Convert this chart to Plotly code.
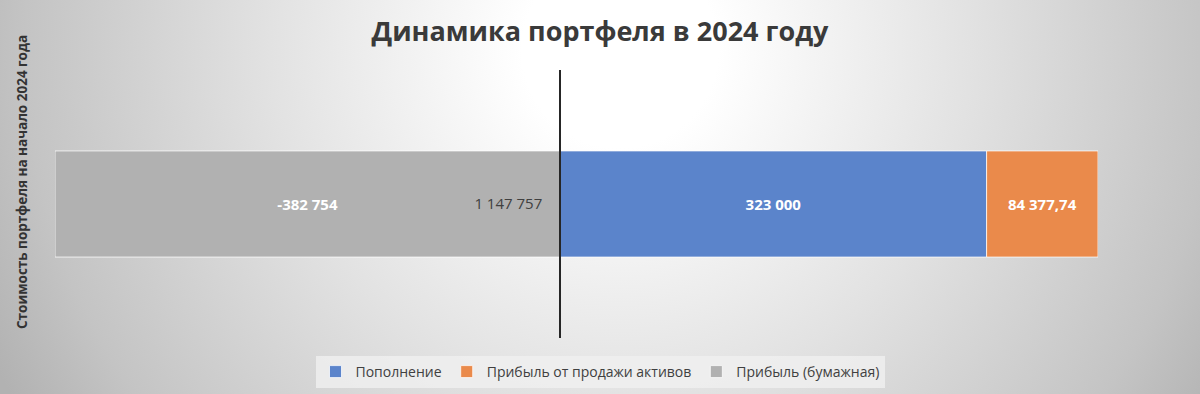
import base64
import plotly.graph_objects as go

# ---- data ----
category = ["1 147 757"]
series_names = ["Пополнение", "Прибыль от продажи активов", "Прибыль (бумажная)"]
popolnenie = [323000]
pribyl_prodazha = [84377.74]
pribyl_bumazhnaya = [-382754]
colors = ["#5B84CB", "#EA8A4B", "#B1B1B1"]
decimals = [0, 2, 0]


def fmt(v, d):
    s = f"{v:,.{d}f}"
    return s.replace(",", " ").replace(".", ",")


W, H = 1200, 394
ML, MR, MT, MB = 55, 102, 70, 56
PW = W - ML - MR
PH = H - MT - MB

xmin = pribyl_bumazhnaya[0]
xmax = popolnenie[0] + pribyl_prodazha[0]
zero_pos = (0 - xmin) / (xmax - xmin)

fig = go.Figure()
for name, vals, col, d in zip(series_names,
                              [popolnenie, pribyl_prodazha, pribyl_bumazhnaya],
                              colors, decimals):
    fig.add_trace(go.Bar(
        y=category, x=vals, name=name, orientation="h",
        marker=dict(color=col, line=dict(color="rgba(255,255,255,0.75)", width=1)),
        text=[fmt(v, d) for v in vals], textposition="inside",
        insidetextanchor="middle",
        textfont=dict(family="Open Sans", size=15, color="white", weight="bold"),
        hoverinfo="skip",
    ))

# radial gradient background as svg image
svg = f'''<svg xmlns="http://www.w3.org/2000/svg" width="{W}" height="{H}" viewBox="0 0 {W} {H}" preserveAspectRatio="none">
<defs><radialGradient id="g" gradientUnits="userSpaceOnUse" cx="620" cy="50" r="700">
<stop offset="0" stop-color="#ffffff"/>
<stop offset="0.14" stop-color="#ffffff"/>
<stop offset="0.5" stop-color="#e2e2e2"/>
<stop offset="0.85" stop-color="#c4c4c4"/>
<stop offset="1" stop-color="#b2b2b2"/>
</radialGradient></defs>
<rect x="0" y="0" width="{W}" height="{H}" fill="url(#g)"/>
</svg>'''
src = "data:image/svg+xml;base64," + base64.b64encode(svg.encode()).decode()

fig.add_layout_image(dict(
    source=src, xref="paper", yref="paper",
    x=-ML / PW, y=1 + MT / PH, sizex=W / PW, sizey=H / PH,
    xanchor="left", yanchor="top", sizing="stretch", layer="below",
))

fig.update_layout(
    width=W, height=H,
    margin=dict(l=ML, r=MR, t=MT, b=MB, pad=0),
    barmode="relative", bargap=0.604,
    paper_bgcolor="white", plot_bgcolor="rgba(0,0,0,0)",
    font=dict(family="Open Sans", color="#404040"),
    title=dict(text="<b>Динамика портфеля в 2024 году</b>", xref="container", x=0.5,
               xanchor="center", yref="container", y=1 - 32 / H, yanchor="middle",
               font=dict(size=27, color="#3a3a3a", family="Open Sans")),
    xaxis=dict(range=[xmin, xmax], showgrid=False, zeroline=False,
               showticklabels=False, showline=False, fixedrange=True),
    yaxis=dict(type="category", anchor="free", position=zero_pos,
               showline=True, linecolor="#262626", linewidth=2,
               showgrid=False, zeroline=False, ticks="",
               ticklabelstandoff=14, range=[-0.5, 0.5], fixedrange=True,
               tickfont=dict(size=15, color="#404040", family="Open Sans")),
    showlegend=True,
    legend=dict(orientation="h", xref="container", x=0.5, xanchor="center",
                yref="container", y=1 - 372 / H, yanchor="middle",
                bgcolor="rgba(240,240,240,0.8)", traceorder="normal",
                font=dict(size=14, color="#404040", family="Open Sans")),
    annotations=[dict(
        text="<b>Стоимость портфеля на начало 2024 года</b>", textangle=-90,
        xref="paper", yref="paper", x=(22 - ML) / PW, y=1 - (182 - MT) / PH,
        xanchor="center", yanchor="middle", showarrow=False,
        font=dict(size=13.5, color="#333333", family="Open Sans"),
    )],
)

fig.write_html("out.html", config={"displayModeBar": False},
               post_script="document.body.style.margin='0';document.body.style.overflow='hidden';")
